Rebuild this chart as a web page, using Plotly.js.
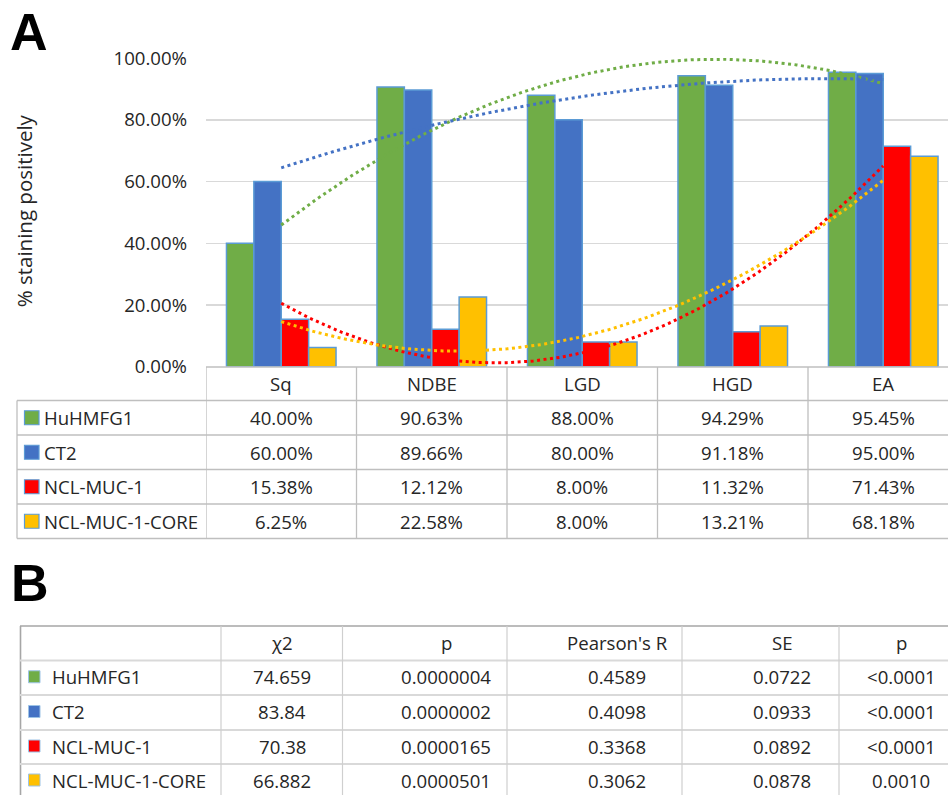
<!DOCTYPE html>
<html><head><meta charset="utf-8">
<script src="https://cdn.plot.ly/plotly-3.0.1.min.js"></script>
<style>html,body{margin:0;padding:0;background:#fff}</style>
</head><body>
<div id="chart" style="width:948px;height:795px"></div>
<script>
// ---------- data ----------
const categories = ['Sq', 'NDBE', 'LGD', 'HGD', 'EA'];
const seriesNames = ['HuHMFG1', 'CT2', 'NCL-MUC-1', 'NCL-MUC-1-CORE'];
const huhmfg1 = [0.4000, 0.9063, 0.8800, 0.9429, 0.9545];
const ct2 = [0.6000, 0.8966, 0.8000, 0.9118, 0.9500];
const nclMuc1 = [0.1538, 0.1212, 0.0800, 0.1132, 0.7143];
const nclMuc1Core = [0.0625, 0.2258, 0.0800, 0.1321, 0.6818];
const yTickVals = [0, 0.2, 0.4, 0.6, 0.8, 1.0];

const statHeaders = ['χ2', 'p', "Pearson's R", 'SE', 'p'];
const chi2 = ['74.659', '83.84', '70.38', '66.882'];
const pChi2 = ['0.0000004', '0.0000002', '0.0000165', '0.0000501'];
const pearsonR = ['0.4589', '0.4098', '0.3368', '0.3062'];
const stdErr = ['0.0722', '0.0933', '0.0892', '0.0878'];
const pR = ['<0.0001', '<0.0001', '<0.0001', '0.0010'];

// ---------- styles ----------
const seriesValues = [huhmfg1, ct2, nclMuc1, nclMuc1Core];
const seriesColors = ['#70AD47', '#4472C4', '#FF0000', '#FFC000'];
const W = 948, H = 795;
const FONT = '"Open Sans", Lato, sans-serif';
const FS = 18.6;
const TXT = '#262626';
const px = x => x / W;
const py = y => 1 - y / H;

// plot geometry
const plotLeft = 206, plotTop = 58, plotBottom = 366.7, catW = 150.5;
const xMax = -0.5 + (W - plotLeft) / catW;

const xs = categories.map((c, i) => i);

// quadratic least-squares trendline (like Excel's polynomial order-2 trendline)
function quadFit(y) {
  const n = y.length;
  let S = [0, 0, 0, 0, 0], T = [0, 0, 0];
  for (let i = 0; i < n; i++) {
    const x = i;
    for (let k = 0; k < 5; k++) S[k] += Math.pow(x, k);
    for (let k = 0; k < 3; k++) T[k] += Math.pow(x, k) * y[i];
  }
  const A = [[S[0], S[1], S[2]], [S[1], S[2], S[3]], [S[2], S[3], S[4]]];
  const det = m => m[0][0]*(m[1][1]*m[2][2]-m[1][2]*m[2][1]) - m[0][1]*(m[1][0]*m[2][2]-m[1][2]*m[2][0]) + m[0][2]*(m[1][0]*m[2][1]-m[1][1]*m[2][0]);
  const D = det(A);
  return [0, 1, 2].map(c => {
    const M = A.map((r, ri) => r.map((v, ci) => ci === c ? T[ri] : v));
    return det(M) / D;
  });
}

const traces = [];
seriesValues.forEach((vals, s) => {
  traces.push({
    type: 'bar', x: xs, y: vals, name: seriesNames[s],
    marker: { color: seriesColors[s], line: { color: '#5B9BD5', width: 1.5 } },
    showlegend: false, hoverinfo: 'skip'
  });
});
seriesValues.forEach((vals, s) => {
  const c = quadFit(vals);
  const tx = [], ty = [];
  for (let k = 0; k <= 160; k++) {
    const x = (xs.length - 1) * k / 160;
    tx.push(x); ty.push(c[0] + c[1] * x + c[2] * x * x);
  }
  traces.push({
    type: 'scatter', mode: 'lines', x: tx, y: ty,
    line: { color: seriesColors[s], width: 3, dash: '3px,3.5px' },
    showlegend: false, hoverinfo: 'skip'
  });
});

// ---------- tables (shapes + annotations) ----------
const shapes = [];
const annotations = [];
const hline = (x0, x1, y, color, w) => shapes.push({ type: 'line', xref: 'paper', yref: 'paper', x0: px(x0), x1: px(x1), y0: py(y), y1: py(y), line: { color, width: w } });
const vlinePx = (x, y0, y1, color, w) => shapes.push({ type: 'line', xref: 'paper', yref: 'paper', x0: px(x), x1: px(x), y0: py(y0), y1: py(y1), line: { color, width: w } });
const text = (t, x, y, opts = {}) => annotations.push(Object.assign({
  text: t, xref: 'paper', yref: 'paper', x: px(x), y: py(y), showarrow: false,
  xanchor: 'center', yanchor: 'middle', font: { family: FONT, size: FS, color: TXT }
}, opts));

// Table A (chart data table)
const gA = '#bfbfbf';
const rowA = [367, 400.5, 435, 469.5, 504, 538.5];
hline(plotLeft, W, rowA[0], gA, 1.3);
for (let r = 1; r < rowA.length; r++) hline(17, W, rowA[r], gA, 1.3);
vlinePx(17, rowA[1], rowA[5], gA, 1.3);
for (let i = 0; i <= categories.length; i++) {
  shapes.push({ type: 'line', xref: 'x', yref: 'paper', x0: i - 0.5, x1: i - 0.5, y0: py(rowA[0]), y1: py(rowA[5]), line: { color: gA, width: 1.3 } });
}
categories.forEach((c, i) => {
  annotations.push({ text: c, xref: 'x', yref: 'paper', x: i, y: py((rowA[0] + rowA[1]) / 2), showarrow: false,
    xanchor: 'center', yanchor: 'middle', font: { family: FONT, size: FS, color: TXT } });
});
seriesValues.forEach((vals, s) => {
  const yc = (rowA[s + 1] + rowA[s + 2]) / 2;
  shapes.push({ type: 'rect', xref: 'paper', yref: 'paper', x0: px(24.5), x1: px(39), y0: py(yc - 7), y1: py(yc + 7),
    fillcolor: seriesColors[s], line: { color: '#5B9BD5', width: 1.2 } });
  text(seriesNames[s], 42, yc, { xanchor: 'left' });
  vals.forEach((v, i) => {
    annotations.push({ text: (v * 100).toFixed(2) + '%', xref: 'x', yref: 'paper', x: i, y: py(yc), showarrow: false,
      xanchor: 'center', yanchor: 'middle', font: { family: FONT, size: FS, color: TXT } });
  });
});

// Table B (statistics)
const rowB = [626, 660.5, 695, 730, 764, 798];
const colB = [20.5, 221, 342.5, 507, 682, 839];
const colBText = [282, 446, 617, 782, 901];
hline(20, W, rowB[0], '#a6a6a6', 1.6);
vlinePx(20.5, rowB[0], H, '#a6a6a6', 1.6);
for (let r = 1; r < rowB.length - 1; r++) hline(20, W, rowB[r], '#d9d9d9', 2);
for (let c = 1; c < colB.length; c++) vlinePx(colB[c], rowB[0], H, '#cfcfcf', 1.2);
statHeaders.forEach((h, c) => text(h, colBText[c], (rowB[0] + rowB[1]) / 2 - 1));
const statCols = [chi2, pChi2, pearsonR, stdErr, pR];
seriesNames.forEach((n, s) => {
  const yc = (rowB[s + 1] + rowB[s + 2]) / 2 - 1;
  shapes.push({ type: 'rect', xref: 'paper', yref: 'paper', x0: px(28.5), x1: px(40), y0: py(yc - 6), y1: py(yc + 6),
    fillcolor: seriesColors[s], line: { color: '#9DC3E6', width: 1 } });
  text(n, 50, yc, { xanchor: 'left' });
  statCols.forEach((col, c) => text(col[s], colBText[c], yc));
});

// panel labels and y-axis title
text('A', 28.5, 32, { font: { family: 'Liberation Sans, Arial, sans-serif', size: 52, color: '#000', weight: 'bold' } });
text('B', 29.5, 583, { font: { family: 'Liberation Sans, Arial, sans-serif', size: 52, color: '#000', weight: 'bold' } });
text('% staining positively', 24, (plotTop + plotBottom) / 2 - 1, { textangle: -90, font: { family: FONT, size: 20.5, color: TXT } });

const layout = {
  width: W, height: H,
  margin: { l: 0, r: 0, t: 0, b: 0 },
  paper_bgcolor: '#fff', plot_bgcolor: '#fff',
  barmode: 'group', bargap: 0.272, bargroupgap: 0,
  xaxis: { domain: [px(plotLeft), 1], range: [-0.5, xMax], showticklabels: false, showgrid: false, zeroline: false, showline: false, ticks: '', fixedrange: true },
  yaxis: { domain: [py(plotBottom), py(plotTop)], range: [0, 1.0005], tickvals: yTickVals, tickformat: '.2%',
    showgrid: true, gridcolor: '#d9d9d9', gridwidth: 1.5, zeroline: false, showline: false, ticks: '',
    ticklabelstandoff: 18, tickfont: { family: FONT, size: FS, color: TXT }, fixedrange: true },
  shapes, annotations,
  showlegend: false
};
Plotly.newPlot('chart', traces, layout, { displayModeBar: false, staticPlot: true });
</script>
</body></html>
